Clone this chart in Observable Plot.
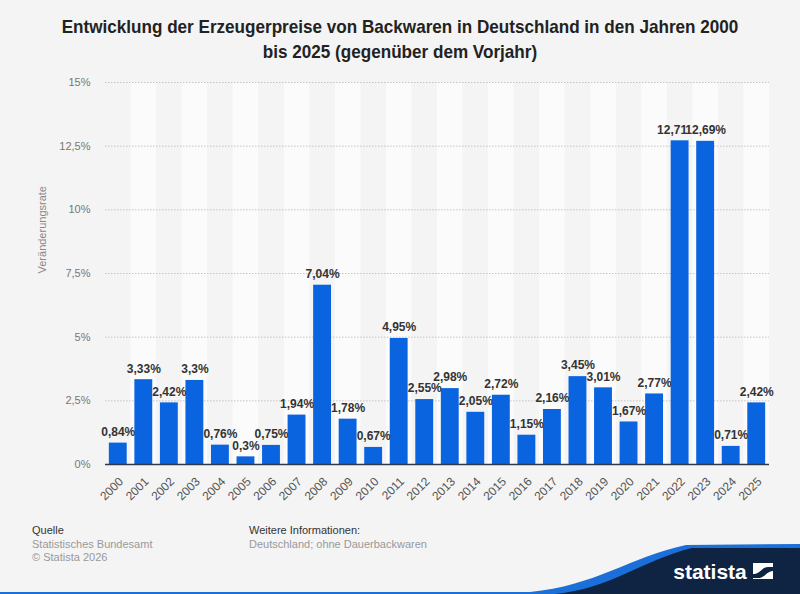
<!DOCTYPE html>
<html><head><meta charset="utf-8">
<script src="https://cdn.jsdelivr.net/npm/d3@7"></script>
<script src="https://cdn.jsdelivr.net/npm/@observablehq/plot@0.6"></script>
<style>
body{margin:0;background:#f4f4f4;width:800px;height:594px;overflow:hidden;position:relative;font-family:"Liberation Sans",Arial,sans-serif;}
#title{position:absolute;top:14px;left:0;width:800px;text-align:center;font-family:"Liberation Sans",Arial,sans-serif;font-weight:bold;font-size:19px;line-height:25px;color:#222;transform:scaleX(0.9);transform-origin:400px 0;}
#chart{position:absolute;top:70px;left:0;}
.foot{position:absolute;font-size:11px;line-height:13.5px;color:#999;}
.foot b{font-weight:normal;color:#333;}
#logo{position:absolute;left:0;top:540px;}
</style></head>
<body>
<div id="title">Entwicklung der Erzeugerpreise von Backwaren in Deutschland in den Jahren 2000<br>bis 2025 (gegenüber dem Vorjahr)</div>
<div id="chart"></div>
<div class="foot" style="left:32px;top:524px;"><b>Quelle</b><br>Statistisches Bundesamt<br>© Statista 2026</div>
<div class="foot" style="left:249px;top:524px;"><b>Weitere Informationen:</b><br>Deutschland; ohne Dauerbackwaren</div>
<svg id="logo" width="800" height="54" viewBox="0 540 800 54">
  <path d="M0 592 L530 592 C595 586 630 557 686 545 L800 544 L800 594 L0 594 Z" fill="#1a6fd8"/>
  <path d="M555 594 C610 589 640 561 692 548 L800 548 L800 594 Z" fill="#0f2442"/>
  <text x="710" y="579" fill="#fff" font-family="Liberation Sans, Arial, sans-serif" font-weight="bold" font-size="21" text-anchor="middle">statista</text>
  <rect x="753" y="563" width="20" height="16" fill="#fff"/>
  <path d="M753 574 C760 574 762 567 768 567 L773 567 L773 571 C767 571 765 578 758 578 L753 578 Z" fill="#0f2442"/>
</svg>
<script>
const years = ["2000","2001","2002","2003","2004","2005","2006","2007","2008","2009","2010","2011","2012","2013","2014","2015","2016","2017","2018","2019","2020","2021","2022","2023","2024","2025"];
const values = [0.84,3.33,2.42,3.3,0.76,0.3,0.75,1.94,7.04,1.78,0.67,4.95,2.55,2.98,2.05,2.72,1.15,2.16,3.45,3.01,1.67,2.77,12.71,12.69,0.71,2.42];
const barLabels = ["0,84%","3,33%","2,42%","3,3%","0,76%","0,3%","0,75%","1,94%","7,04%","1,78%","0,67%","4,95%","2,55%","2,98%","2,05%","2,72%","1,15%","2,16%","3,45%","3,01%","1,67%","2,77%","12,71","12,69%","0,71%","2,42%"];
const yTicks = [0,2.5,5,7.5,10,12.5,15];
const yTickLabels = ["0%","2,5%","5%","7,5%","10%","12,5%","15%"];
const yLabel = "Veränderungsrate";

const yearNums = years.map(Number);
const data = years.map((y,i)=>({year:Number(y), value:values[i], label:barLabels[i]}));
const stripes = yearNums.filter((y,i)=>i%2===1);
const shifted = data.filter(d=>d.year===2022);
const normal = data.filter(d=>d.year!==2022);
const half = 0.35;

const chart = Plot.plot({
  width:800, height:450,
  marginTop:12, marginBottom:56, marginLeft:105, marginRight:31,
  style:{background:"transparent", fontFamily:"Liberation Sans, Arial, sans-serif"},
  x:{type:"linear", domain:[yearNums[0]-0.5, yearNums[yearNums.length-1]+0.5], label:null},
  y:{domain:[0,15], label:null},
  marks:[
    Plot.rectY(stripes, {x1:d=>d-0.5, x2:d=>d+0.5, y1:0, y2:15, fill:"#fbfbfb"}),
    Plot.gridY(yTicks, {stroke:"#c4c4c4", strokeOpacity:1, strokeDasharray:"1.5,1.5"}),
    Plot.rectY(data, {x1:d=>d.year-half, x2:d=>d.year+half, y1:0, y2:"value", fill:"#0a64e0"}),
    Plot.ruleY([0], {stroke:"#2d3a4a", strokeWidth:1.5}),
    Plot.text(normal, {x:"year", y:"value", text:"label", dy:-11, fontWeight:"bold", fontSize:12, fill:"#333"}),
    Plot.text(shifted, {x:"year", y:"value", text:"label", dy:-11, dx:7, textAnchor:"end", fontWeight:"bold", fontSize:12, fill:"#333"}),
    Plot.axisY({ticks:yTicks, tickFormat:(d)=>yTickLabels[yTicks.indexOf(d)], tickSize:0, tickPadding:15, fontSize:11, color:"#777", label:null}),
    Plot.axisX({ticks:yearNums, tickFormat:(d)=>years[yearNums.indexOf(d)], tickRotate:-45, tickSize:0, tickPadding:15, fontSize:12, color:"#555", label:null, dx:3}),
    Plot.text([yLabel], {frameAnchor:"left", dx:-63, rotate:-90, fontSize:11, fill:"#888"})
  ]
});
document.getElementById("chart").appendChild(chart);
</script>
</body></html>
